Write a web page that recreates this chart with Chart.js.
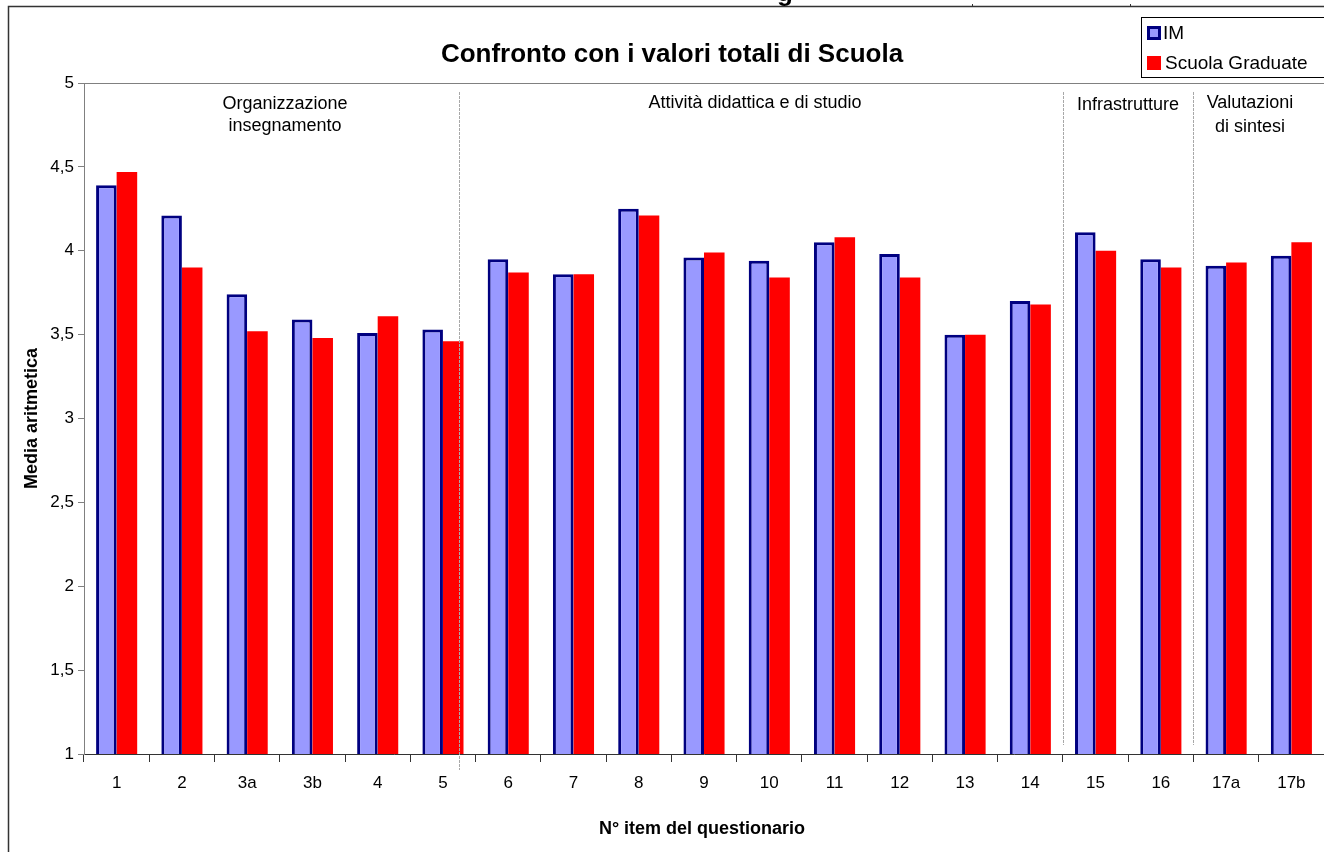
<!DOCTYPE html>
<html>
<head>
<meta charset="utf-8">
<script src="https://cdn.jsdelivr.net/npm/chart.js@4/dist/chart.umd.min.js"></script>
<style>
  body { margin: 0; background: #fff; }
  canvas { display: block; }
</style>
</head>
<body>
<canvas id="myChart" width="1324" height="852"></canvas>
<script>
var items   = ["1","2","3a","3b","4","5","6","7","8","9","10","11","12","13","14","15","16","17a","17b"];
var imVals  = [4.39,4.21,3.74,3.59,3.51,3.53,3.95,3.86,4.25,3.96,3.94,4.05,3.98,3.50,3.70,4.11,3.95,3.91,3.97];
var sgVals  = [4.47,3.90,3.52,3.48,3.61,3.46,3.87,3.86,4.21,3.99,3.84,4.08,3.84,3.50,3.68,4.00,3.90,3.93,4.05];
var seriesNames = ["IM", "Scuola Graduate"];
var yTicks  = [1, 1.5, 2, 2.5, 3, 3.5, 4, 4.5, 5];
var groupBreaks = [5.25, 14.5, 16.5];   // divider positions, in category units

var FONT = "Arial, 'Liberation Sans', sans-serif";

// draws frame, titles, legend, group labels and dividers
var decor = {
  id: "decor",
  beforeDraw: function(chart) {
    var c = chart.ctx;
    c.save();
    c.fillStyle = "#fff";
    c.fillRect(0, 0, chart.width, chart.height);
    c.restore();
  },
  afterDraw: function(chart) {
    var c = chart.ctx;
    var a = chart.chartArea;
    var x = chart.scales.x;
    c.save();

    // outer frame
    c.strokeStyle = "#333";
    c.lineWidth = 1.5;
    c.beginPath();
    c.moveTo(8.5, 852);
    c.lineTo(8.5, 6.5);
    c.lineTo(1324, 6.5);
    c.stroke();
    c.lineWidth = 1;
    c.beginPath();
    c.moveTo(972.5, 4); c.lineTo(972.5, 7);
    c.moveTo(1130.5, 4); c.lineTo(1130.5, 7);
    c.stroke();

    // cut-off text above the frame
    c.fillStyle = "#000";
    c.font = "bold 26px " + FONT;
    c.textAlign = "center";
    c.textBaseline = "alphabetic";
    c.fillText("g", 785, 1);

    // top border of plot
    c.strokeStyle = "#808080";
    c.beginPath();
    c.moveTo(a.left, a.top + 0.5);
    c.lineTo(a.right, a.top + 0.5);
    c.stroke();

    // group dividers
    c.strokeStyle = "#a8a8a8";
    c.setLineDash([3, 1]);
    groupBreaks.forEach(function(v, k) {
      var px = Math.round(x.getPixelForValue(0) + v * (x.getPixelForValue(1) - x.getPixelForValue(0))) + 0.5;
      c.beginPath();
      c.moveTo(px, 92);
      c.lineTo(px, k == 0 ? 770 : 745);
      c.stroke();
    });
    c.setLineDash([]);

    // title
    c.fillStyle = "#000";
    c.font = "bold 26px " + FONT;
    c.textBaseline = "middle";
    c.fillText("Confronto con i valori totali di Scuola", 672, 55);

    // group labels
    c.font = "18px " + FONT;
    c.fillText("Organizzazione", 285, 104);
    c.fillText("insegnamento", 285, 126);
    c.fillText("Attività didattica e di studio", 755, 103);
    c.fillText("Infrastrutture", 1128, 105);
    c.fillText("Valutazioni", 1250, 103);
    c.fillText("di sintesi", 1250, 127);

    // axis titles
    c.font = "bold 18px " + FONT;
    c.fillText("N° item del questionario", 702, 829);
    c.save();
    c.translate(32, (a.top + a.bottom) / 2);
    c.rotate(-Math.PI / 2);
    c.fillText("Media aritmetica", 0, 0);
    c.restore();

    // legend
    c.fillStyle = "#fff";
    c.fillRect(1141, 17, 190, 60);
    c.strokeStyle = "#000";
    c.lineWidth = 1;
    c.strokeRect(1141.5, 17.5, 190, 60);
    c.fillStyle = "#000080";
    c.fillRect(1147, 26, 14, 14);
    c.fillStyle = "#9999FF";
    c.fillRect(1150, 29, 8, 8);
    c.fillStyle = "#FF0000";
    c.fillRect(1147, 56, 14, 14);
    c.fillStyle = "#000";
    c.font = "19px " + FONT;
    c.textAlign = "left";
    c.fillText(seriesNames[0], 1163, 34);
    c.fillText(seriesNames[1], 1165, 64);

    c.restore();
  }
};

new Chart("myChart", {
  type: "bar",
  data: {
    labels: items,
    datasets: [{
      label: seriesNames[0],
      data: imVals,
      backgroundColor: "#9999FF",
      borderColor: "#000080",
      borderWidth: 3,
      borderSkipped: false,
      categoryPercentage: 0.63,
      barPercentage: 1
    }, {
      label: seriesNames[1],
      data: sgVals,
      backgroundColor: "#FF0000",
      borderWidth: 0,
      categoryPercentage: 0.63,
      barPercentage: 1
    }]
  },
  options: {
    responsive: false,
    animation: false,
    devicePixelRatio: 1,
    layout: { padding: { top: 83, right: 0, bottom: 0, left: 0 } },
    plugins: {
      legend: { display: false },
      title: { display: false },
      tooltip: { enabled: false }
    },
    scales: {
      x: {
        afterFit: function(s) { s.height = 98; },
        grid: { drawOnChartArea: false, tickLength: 8, color: "#333" },
        border: { color: "#333", width: 1 },
        ticks: { color: "#000", padding: 11, font: { size: 17, family: FONT } }
      },
      y: {
        min: 1,
        max: 5,
        afterFit: function(s) { s.width = 84; },
        afterBuildTicks: function(s) { s.ticks = yTicks.map(function(v) { return { value: v }; }); },
        grid: { drawOnChartArea: false, tickLength: 6, color: "#808080" },
        border: { color: "#808080", width: 1 },
        ticks: {
          color: "#000",
          padding: 4,
          font: { size: 17, family: FONT },
          callback: function(v) { return String(v).replace(".", ","); }
        }
      }
    }
  },
  plugins: [decor]
});
</script>
</body>
</html>
